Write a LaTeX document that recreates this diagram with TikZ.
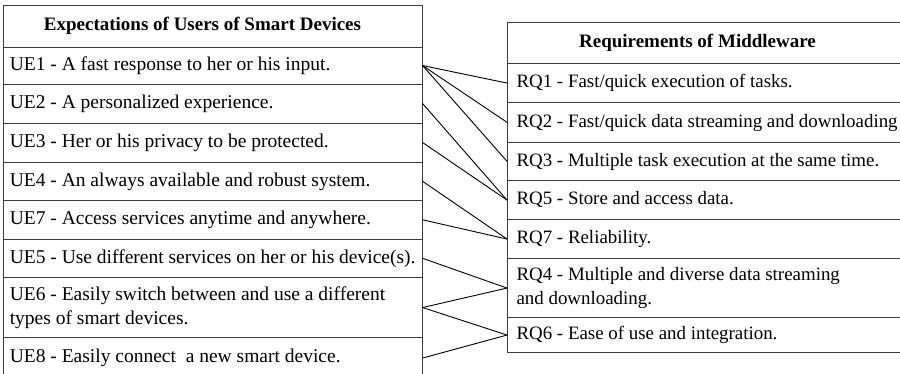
\documentclass[tikz,border=0pt]{standalone}
\usepackage{fontspec}
\setmainfont{Liberation Serif}
\definecolor{bordergray}{RGB}{60,60,60}
\newcommand{\celltxt}[2]{\makebox[#1][l]{\begin{tabular}{@{}l@{}}#2\end{tabular}}}
\newcommand{\lt}[1]{\celltxt{406pt}{#1}}
\newcommand{\rt}[1]{\celltxt{412pt}{#1}}
\begin{document}
\begin{tikzpicture}[x=1pt,y=-1pt,
  cellL/.style={draw=bordergray, line width=1.1pt, rectangle, anchor=north west,
    minimum width=418.5pt, inner xsep=6pt, inner ysep=0pt,
    font=\fontsize{19.5}{24}\selectfont},
  cellR/.style={draw=bordergray, line width=1.1pt, rectangle, anchor=north west,
    minimum width=430pt, inner xsep=9pt, inner ysep=0pt,
    font=\fontsize{18.9}{24}\selectfont},
  hdrtext/.style={inner sep=0pt, font=\fontsize{19}{24}\selectfont\bfseries},
  conn/.style={draw=black, line width=0.9pt}]
\clip (0,0) rectangle (900,373);
\fill[white] (0,0) rectangle (900,373);
% left table
\node[cellL, minimum height=41.5pt] (hdrL) at (3,5) {};
\node[hdrtext] (hdrLt) at (202.5,25.75) {Expectations of Users of Smart Devices};
\node[cellL, minimum height=37pt] (ue1) at (3,46.5) {\lt{UE1 - A fast response to her or his input.}};
\node[cellL, minimum height=39pt] (ue2) at (3,83.5) {\lt{UE2 - A personalized experience.}};
\node[cellL, minimum height=39pt] (ue3) at (3,122.5) {\lt{UE3 - Her or his privacy to be protected.}};
\node[cellL, minimum height=38.5pt] (ue4) at (3,161.5) {\lt{UE4 - An always available and robust system.}};
\node[cellL, minimum height=38.5pt] (ue7) at (3,200) {\lt{UE7 - Access services anytime and anywhere.}};
\node[cellL, minimum height=38.5pt] (ue5) at (3,238.5) {\lt{UE5 - Use different services on her or his device(s).}};
\node[cellL, minimum height=60pt] (ue6) at (3,277) {\lt{UE6 - Easily switch between and use a different\\types of smart devices.}};
\node[cellL, minimum height=41pt] (ue8) at (3,337) {\lt{UE8 - Easily connect\ \ a new smart device.}};
% right table
\node[cellR, minimum height=41pt] (hdrR) at (507,22) {};
\node[hdrtext] (hdrRt) at (697.5,42.5) {Requirements of Middleware};
\node[cellR, minimum height=39pt] (rq1) at (507,63) {\rt{RQ1 - Fast/quick execution of tasks.}};
\node[cellR, minimum height=39.5pt] (rq2) at (507,102) {\rt{RQ2 - Fast/quick data streaming and downloading}};
\node[cellR, minimum height=38.5pt] (rq3) at (507,141.5) {\rt{RQ3 - Multiple task execution at the same time.}};
\node[cellR, minimum height=39pt] (rq5) at (507,180) {\rt{RQ5 - Store and access data.}};
\node[cellR, minimum height=39pt] (rq7) at (507,219) {\rt{RQ7 - Reliability.}};
\node[cellR, minimum height=59pt] (rq4) at (507,258) {\rt{RQ4 - Multiple and diverse data streaming\\and downloading.}};
\node[cellR, minimum height=35pt] (rq6) at (507,317) {\rt{RQ6 - Ease of use and integration.}};
% connectors
\draw[conn] (ue1.east) -- (rq1.west);
\draw[conn] (ue1.east) -- (rq2.west);
\draw[conn] (ue1.east) -- (rq3.west);
\draw[conn] (ue2.east) -- (rq5.west);
\draw[conn] (ue3.east) -- (rq5.west);
\draw[conn] (ue4.east) -- (rq7.west);
\draw[conn] (ue7.east) -- (rq7.west);
\draw[conn] (ue5.east) -- (rq4.west);
\draw[conn] (ue6.east) -- (rq4.west);
\draw[conn] (ue6.east) -- (rq6.west);
\draw[conn] (ue8.east) -- (rq6.west);
\end{tikzpicture}
\end{document}
